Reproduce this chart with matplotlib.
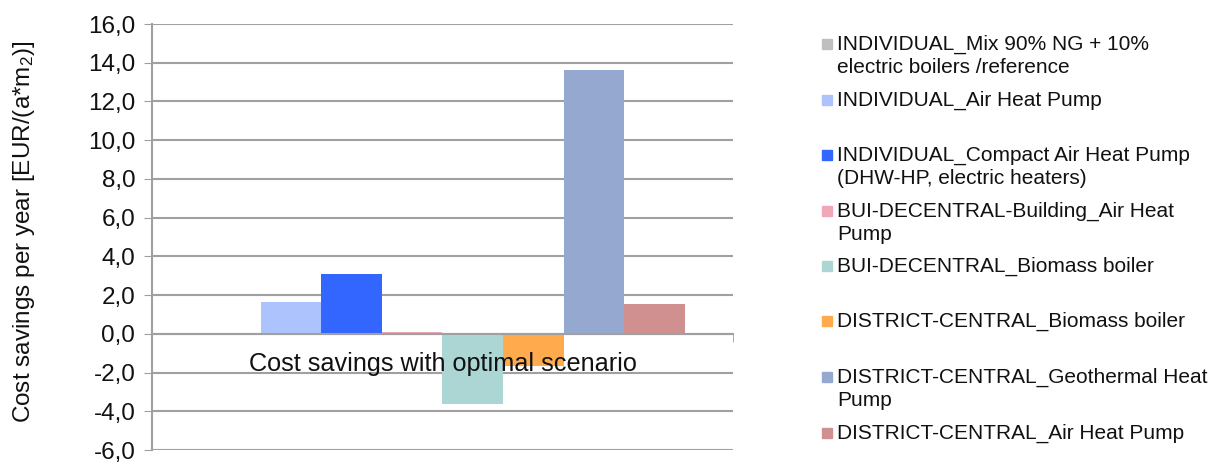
import numpy as np
import matplotlib.pyplot as plt

plt.rcParams['font.family'] = ['Liberation Sans', 'DejaVu Sans']

category = "Cost savings with optimal scenario"

series_names = [
    "INDIVIDUAL_Mix 90% NG + 10%\nelectric boilers /reference",
    "INDIVIDUAL_Air Heat Pump",
    "INDIVIDUAL_Compact Air Heat Pump\n(DHW-HP, electric heaters)",
    "BUI-DECENTRAL-Building_Air Heat\nPump",
    "BUI-DECENTRAL_Biomass boiler",
    "DISTRICT-CENTRAL_Biomass boiler",
    "DISTRICT-CENTRAL_Geothermal Heat\nPump",
    "DISTRICT-CENTRAL_Air Heat Pump",
]
values = [-0.05, 1.65, 3.1, 0.1, -3.6, -1.65, 13.6, 1.55]
colors = ["#bfbfbf", "#adc3fd", "#3366ff", "#f0a8b8",
          "#acd6d4", "#ffaa4c", "#95a9d0", "#d09090"]

# legend row centres (figure pixels from top), Excel-like spacing
legend_rows = [44, 100, 155, 211, 266, 321, 377, 433]

W, H = 1229, 463
fig = plt.figure(figsize=(W / 100, H / 100), dpi=100)
ax = fig.add_axes([152 / W, 1 - 450 / H, (733 - 152) / W, (450 - 24) / H])

n = len(values)
group = 0.835
bw = group / n
xs = -group / 2 + bw / 2 + np.arange(n) * bw
ax.set_axisbelow(True)
ax.bar(xs, values, width=bw, color=colors, zorder=3)

ax.set_xlim(-0.5, 0.5)
ax.set_ylim(-6, 16)
yt = np.arange(-6, 17, 2)
ax.set_yticks(yt, labels=[f"{v:.1f}".replace(".", ",") for v in yt])
ax.tick_params(axis='y', direction='out', length=6, color='#a0a0a0',
               labelsize=17.5, labelcolor='#111111', pad=6)
ax.grid(axis='y', color='#a0a0a0', linewidth=1.5)

ax.set_xticks([])
ax.set_xticks([-0.5, 0.5], minor=True)
ax.tick_params(axis='x', which='minor', direction='out', length=6,
               color='#a0a0a0', labelbottom=False)
ax.annotate(category, xy=(0, 0), xycoords='data', xytext=(0, -22),
            textcoords='offset points', ha='center', va='center',
            fontsize=18.2, color='#111111', zorder=6)

for s in ['top', 'right']:
    ax.spines[s].set_visible(False)
ax.spines['bottom'].set_position(('data', 0))
ax.spines['bottom'].set_color('#a0a0a0')
ax.spines['bottom'].set_linewidth(1.5)
ax.spines['bottom'].set_zorder(4)
ax.spines['left'].set_color('#a0a0a0')
ax.spines['left'].set_linewidth(1.5)

ax.set_ylabel("Cost savings per year [EUR/(a*m$\\mathregular{_2}$)]",
              fontsize=17.5, color='#111111')
ax.yaxis.set_label_coords(-0.198, 0.512)

for name, col, row in zip(series_names, colors, legend_rows):
    fig.patches.append(plt.Rectangle((822 / W, 1 - (row + 5) / H), 10 / W, 10 / H,
                                     transform=fig.transFigure, color=col))
    for i, line in enumerate(name.split("\n")):
        fig.text(837 / W, 1 - (row + i * 23.5) / H, line, fontsize=15,
                 color='#111111', va='center', ha='left')

fig.savefig("out.png", dpi=100)
